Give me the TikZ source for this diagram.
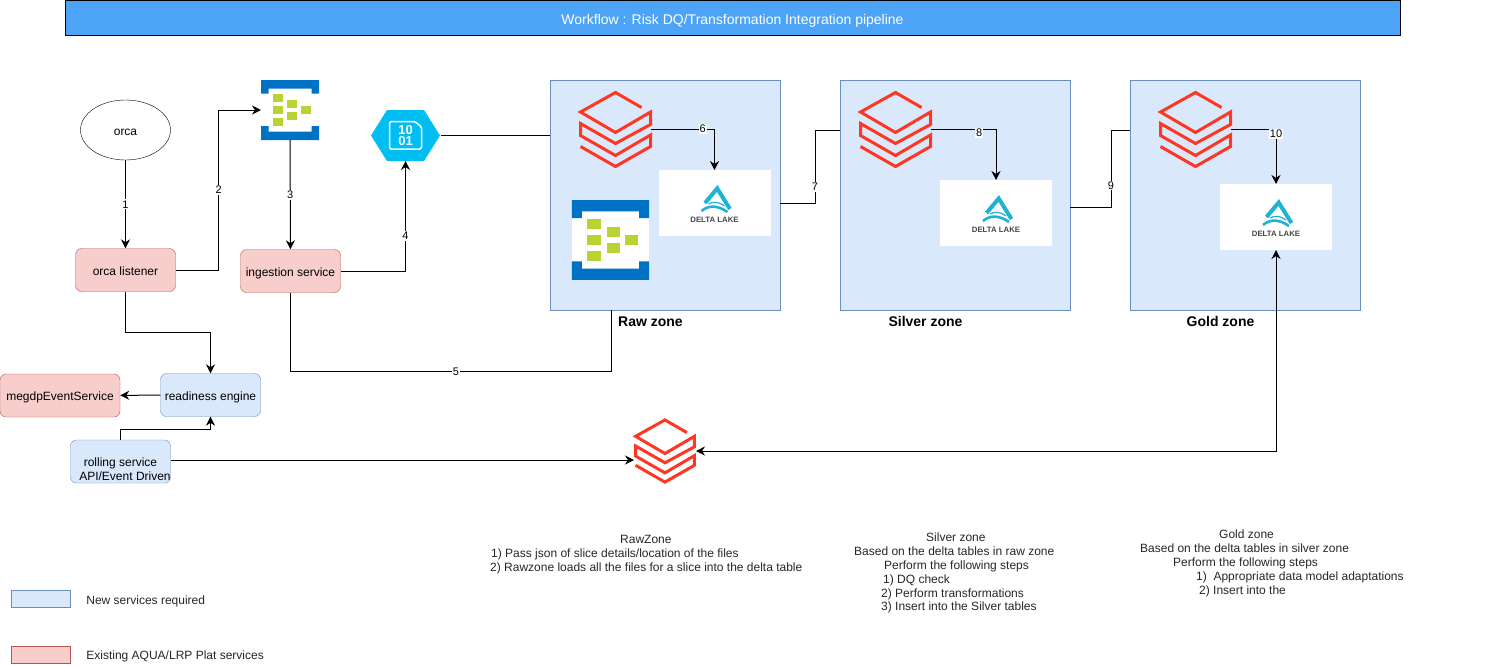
\documentclass[tikz,border=0pt]{standalone}
\usepackage{fontspec}
\setmainfont{Liberation Sans}
\usetikzlibrary{arrows.meta, positioning, shapes.geometric}
\definecolor{newblue}{RGB}{218,232,252}
\definecolor{newedge}{RGB}{108,142,191}
\definecolor{oldred}{RGB}{248,206,204}
\definecolor{oldedge}{RGB}{184,84,80}
\definecolor{titleblue}{RGB}{77,163,245}
\definecolor{brickred}{RGB}{255,54,33}
\definecolor{hubblue}{RGB}{0,114,198}
\definecolor{hubgreen}{RGB}{184,212,50}
\definecolor{lakeblue}{RGB}{0,190,242}
\definecolor{deltateal}{RGB}{30,178,212}
\definecolor{deltagray}{RGB}{70,70,70}

\tikzset{
  bricks/.pic={
    \draw[brickred, line width=3pt, line join=miter]
      (26,-22) -- (0,-37) -- (-35,-17.5) -- (0,3) -- (35,-17.5) -- (35,-5)
      -- (0,14) -- (-35,-6) -- (-35,6) -- (0,26) -- (35,5.5) -- (35,17)
      -- (0,37) -- (-35,17);
  },
  eventhub/.pic={
    \fill[white] (-29,-30) rectangle (29,30);
    \fill[hubblue] (-29,-30) -- (29,-30) -- (29,-16.5) -- (21.5,-16.5) -- (21.5,-21.5)
      -- (-21.5,-21.5) -- (-21.5,-16.5) -- (-29,-16.5) -- cycle;
    \fill[hubblue] (-29,30) -- (29,30) -- (29,16) -- (21.5,16) -- (21.5,21.5)
      -- (-21.5,21.5) -- (-21.5,16) -- (-29,16) -- cycle;
    \foreach \cx/\cy in {-12.5/-12,-12.5/0,-12.5/12,2/-6,2/6,16/0}
      \fill[hubgreen] (\cx-5,\cy-4) rectangle (\cx+5,\cy+4);
  },
  deltalake/.pic={
    \draw[deltateal, line width=4pt, line join=miter]
      (-9.5,0) -- (2.7,-14.5) -- (15.5,6);
    \draw[deltateal, line width=2.6pt] (-13,8) .. controls (-6,2) and (3,2) .. (13,9);
    \draw[deltateal, line width=1.2pt] (-6,1) .. controls (-1,-2) and (5,-1) .. (10,3);
    \node[text=deltagray, font=\fontsize{7.8}{8}\selectfont\bfseries] (text) at (0,17) {DELTA LAKE};
  }
}

\begin{document}
\begin{tikzpicture}[
    x=1pt, y=-1pt,
    font=\fontsize{12}{14}\selectfont,
    oldbox/.style={rectangle, rounded corners=6pt, draw=oldedge, fill=oldred, text height=10.5pt, text depth=0pt,
                   minimum width=100pt, minimum height=43pt, inner sep=0pt, align=center},
    newbox/.style={rectangle, rounded corners=6pt, draw=newedge, fill=newblue, text height=10.5pt, text depth=0pt,
                   minimum width=100pt, minimum height=43pt, inner sep=0pt, align=center},
    zone/.style={rectangle, draw=newedge, fill=newblue, minimum size=230pt, inner sep=0pt, outer sep=0pt},
    zonename/.style={font=\fontsize{14}{16}\selectfont\bfseries},
    iconbox/.style={rectangle, inner sep=0pt, outer sep=0pt},
    deltabox/.style={rectangle, fill=white, inner sep=0pt, outer sep=0pt,
                     minimum width=112pt, minimum height=66pt},
    legendbox/.style={rectangle, inner sep=0pt, minimum width=59pt, minimum height=17pt},
    notes/.style={align=left, inner sep=0pt, anchor=north west, text=black!85,
                  font=\fontsize{12}{13.8}\selectfont},
    flow/.style={-{Stealth[length=9pt,width=9pt]}, line width=1pt},
    plain/.style={line width=1pt},
    steplabel/.style={fill=white, inner sep=1pt, font=\fontsize{11}{12}\selectfont}
  ]
  \useasboundingbox (0,0) rectangle (1491,665);

  % title
  \node[rectangle, draw=black, fill=titleblue, text=white, line width=1pt, inner sep=0pt, text height=12pt, text depth=0pt,
        font=\fontsize{14}{16}\selectfont, minimum width=1335pt, minimum height=35pt] (title) at (732.5,18) {Workflow : Risk DQ/Transformation Integration pipeline};

  % services on the left
  \node[ellipse, draw=black, minimum width=90pt, minimum height=60pt, inner sep=0pt, text height=10.5pt, text depth=0pt] (orca) at (125.5,130) {orca};
  \node[oldbox] (listener) at (125.5,270) {orca listener};
  \node[iconbox, minimum width=58pt, minimum height=60pt] (hub) at (290,110) {};
  \pic at (hub) {eventhub};
  \node[oldbox] (ingestion) at (290.5,271) {ingestion service};
  \node[iconbox, minimum width=70pt, minimum height=51pt] (lake) at (405.5,135.5) {};
  \fill[lakeblue] (371,135.5) -- (387,110) -- (424,110) -- (440,135.5) -- (424,161) -- (387,161) -- cycle;
  \draw[white, line width=1.5pt, rounded corners=1.5pt]
    (389.5,121.5) -- (415,121.5) -- (421.5,127) -- (421.5,149) -- (389.5,149) -- cycle;
  \node[text=white, align=center, inner sep=0pt, font=\fontsize{13}{11}\selectfont\bfseries] (lakebits) at (405.5,135.5) {10\\01};
  \node[newbox] (readiness) at (210.5,395) {readiness engine};
  \node[oldbox, minimum width=120pt] (megdp) at (60,395.5) {megdpEventService};
  \node[newbox] (rolling) at (120.5,461.5) {};
  \node (rollingtop) at (120.5,463) {rolling service};
  \node (rollingapi) at (125,476.5) {API/Event Driven};

  % zones
  \node[zone] (raw) at (665,195) {};
  \node[zone] (silver) [right=60pt of raw] {};
  \node[zone] (gold) [right=60pt of silver] {};
  \node[zonename] (rawname) at (650.5,321.5) {Raw zone};
  \node[zonename] (silvername) at (925.5,321.5) {Silver zone};
  \node[zonename] (goldname) at (1220.5,321.5) {Gold zone};

  \node[iconbox, minimum width=71pt, minimum height=74pt] (rawbricks) at (615.5,129.5) {};
  \node[iconbox, minimum width=71pt, minimum height=74pt] (silverbricks) at (895.5,129.5) {};
  \node[iconbox, minimum width=71pt, minimum height=74pt] (goldbricks) at (1195.5,129.5) {};
  \node[iconbox, minimum width=62pt, minimum height=64pt] (sharedbricks) at (665,451) {};
  \pic at (rawbricks) {bricks};
  \pic at (silverbricks) {bricks};
  \pic at (goldbricks) {bricks};
  \pic[scale=0.84] at (sharedbricks) {bricks};
  \node[iconbox, minimum width=78pt, minimum height=80pt] (rawhub) at (610.5,240) {};
  \pic[scale=1.33] at (rawhub) {eventhub};

  \node[deltabox] (rawdelta) at (714.5,203) {};
  \node[deltabox] (silverdelta) at (996,213) {};
  \node[deltabox] (golddelta) at (1276,217) {};
  \pic (rawlogo) at (rawdelta) {deltalake};
  \pic (silverlogo) at (silverdelta) {deltalake};
  \pic (goldlogo) at (golddelta) {deltalake};

  % connectors
  \draw[flow] (orca) -- node[steplabel, pos=0.5] {1} (listener);
  \draw[flow] (listener.east) -- ++(43,0) |- node[steplabel, pos=0.25] {2} (hub.west);
  \draw[flow] (hub) -- node[steplabel, pos=0.5] {3} (ingestion);
  \draw[flow] (ingestion.east) -| node[steplabel, pos=0.66] {4} (lake.south);
  \draw[plain] (lake.east) -- (lake.east -| raw.west);
  \draw[plain] (ingestion.south) -- ++(0,79) -| node[steplabel, pos=0.258] {5} ([xshift=-54pt]raw.south);
  \draw[flow] ([yshift=0.5pt]rawbricks.east) -| node[steplabel, pos=0.406] {6} (rawdelta.north);
  \draw[plain] ([yshift=-8pt]raw.east) -- ++(35,0) |- node[steplabel, pos=0.11] {7} ([yshift=65pt]silver.west);
  \draw[flow] ([yshift=0.5pt]silverbricks.east) -| node[steplabel, pos=0.37, yshift=-4pt] {8} (silverdelta.north);
  \draw[plain] ([yshift=-12pt]silver.east) -- ++(41,0) |- node[steplabel, pos=0.14] {9} ([yshift=65pt]gold.west);
  \draw[flow] ([yshift=0.5pt]goldbricks.east) -| node[steplabel, pos=0.5, yshift=-5pt] {10} (golddelta.north);
  \draw[flow] (listener.south) -- ++(0,41) -| (readiness.north);
  \draw[flow] (readiness) -- (megdp);
  \draw[flow] (rolling.north) -- ++(0,-10) -| (readiness.south);
  \draw[flow] ([yshift=1.5pt]rolling.east) -- ([yshift=-9pt]sharedbricks.west);
  \draw[{Stealth[length=9pt,width=9pt]}-{Stealth[length=9pt,width=9pt]}, line width=1pt] (golddelta.south) |- (sharedbricks.east);

  % notes under the zones
  \node[notes] (rawnotes) at (490,535) {\hspace*{130pt}RawZone\\
    \hspace*{1pt}1) Pass json of slice details/location of the files\\
    2) Rawzone loads all the files for a slice into the delta table};
  \node[notes] (silvernotes) at (854,533) {\hspace*{72pt}Silver zone\\
    Based on the delta tables in raw zone\\
    \hspace*{30pt}Perform the following steps\\
    \hspace*{29pt}1) DQ check\\
    \hspace*{27pt}2) Perform transformations\\
    \hspace*{27pt}3) Insert into the Silver tables};
  \node[notes] (goldnotes) at (1140,530) {\hspace*{79pt}Gold zone\\
    Based on the delta tables in silver zone\\
    \hspace*{33pt}Perform the following steps\\
    \hspace*{56pt}1)\ \ Appropriate data model adaptations\\
    \hspace*{59pt}2) Insert into the};

  % legend
  \node[legendbox, draw=newedge, fill=newblue] (newkey) at (40.5,598.5) {};
  \node[legendbox, draw=oldedge, fill=oldred] (oldkey) at (40.5,654.5) {};
  \node[inner sep=0pt, anchor=west, text=black!85, yshift=-2.5pt] (newtext) [right=16pt of newkey] {New services required};
  \node[inner sep=0pt, anchor=west, text=black!85, yshift=-1.5pt] (oldtext) [right=16pt of oldkey] {Existing AQUA/LRP Plat services};
\end{tikzpicture}
\end{document}
